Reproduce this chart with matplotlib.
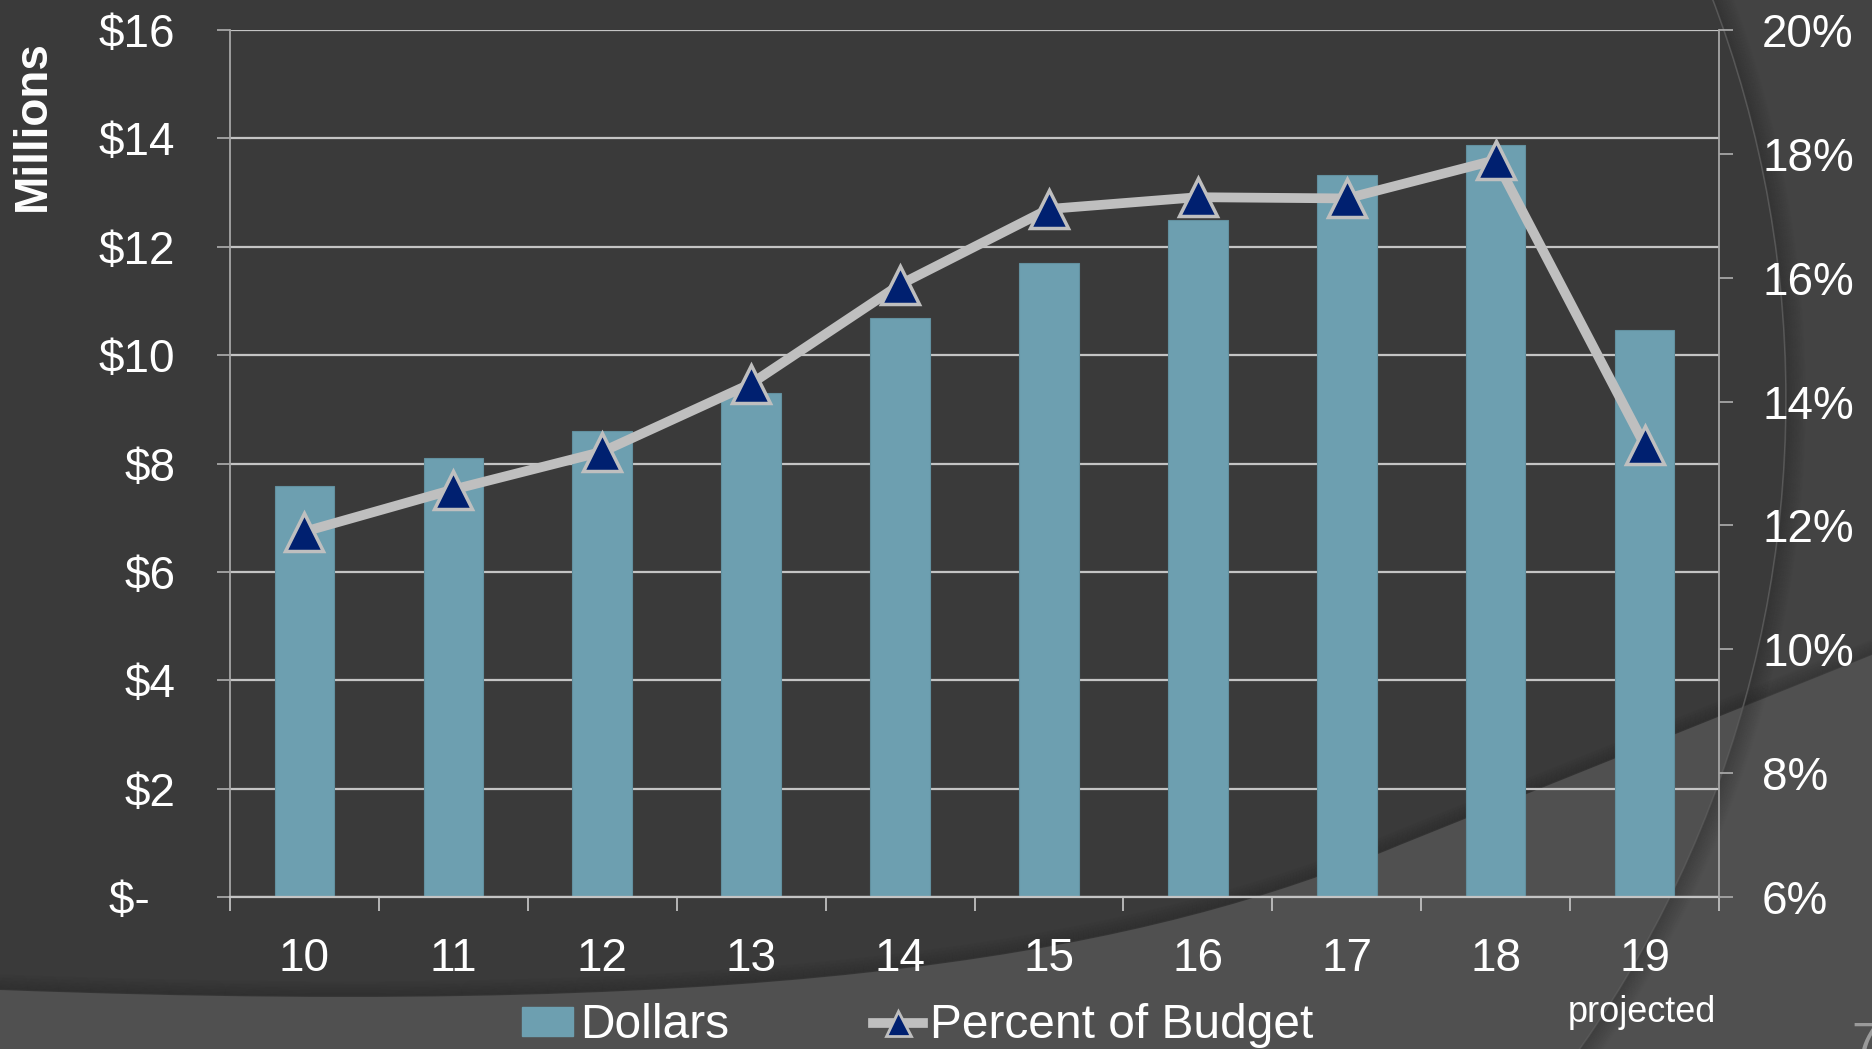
import numpy as np
import matplotlib
matplotlib.use("Agg")
import matplotlib.pyplot as plt
from matplotlib.patches import Circle, PathPatch, Rectangle, Patch
from matplotlib.path import Path
from matplotlib.lines import Line2D

plt.rcParams['font.family'] = ['Liberation Sans', 'DejaVu Sans']

# data
years = ['10', '11', '12', '13', '14', '15', '16', '17', '18', '19']
dollars = [7.58, 8.10, 8.60, 9.30, 10.68, 11.70, 12.50, 13.33, 13.87, 10.47]   # $ millions
pct_budget = [11.9, 12.58, 13.19, 14.29, 15.89, 17.11, 17.30, 17.28, 17.9, 13.3]  # percent
left_ticks = [0, 2, 4, 6, 8, 10, 12, 14, 16]
left_labels = ['$-  ', '$2', '$4', '$6', '$8', '$10', '$12', '$14', '$16']
right_ticks = [6, 8, 10, 12, 14, 16, 18, 20]

W, H = 1872, 1049
BAR = '#6d9fb0'
LINE = '#bfbfbf'
NAVY = '#002070'

fig = plt.figure(figsize=(W / 100, H / 100), dpi=100)

# slide background (pixel coordinates)
bg = fig.add_axes([0, 0, 1, 1], zorder=0)
bg.set_xlim(0, W)
bg.set_ylim(H, 0)
bg.axis('off')
bg.add_patch(Rectangle((0, 0), W, H, color='#434343'))
bg.add_patch(Circle((659, 399), 1127, color='#3a3a3a'))

curve = [(0, 990), (800, 1020), (1150, 950), (1400, 845), (1872, 655)]
ccodes = [Path.MOVETO, Path.CURVE4, Path.CURVE4, Path.CURVE4, Path.LINETO]
for k in range(1, 16):
    shifted = [(x, y - k) for x, y in curve]
    bg.add_patch(PathPatch(Path(shifted, ccodes), fill=False, ec='black',
                           lw=1.5, alpha=0.08 * (16 - k) / 15))
verts = curve + [(W, H), (0, H), (0, 990)]
codes = ccodes + [Path.LINETO, Path.LINETO, Path.CLOSEPOLY]
bg.add_patch(PathPatch(Path(verts, codes), color='#505050', lw=0))

bg.add_patch(Circle((659, 399), 1127, fill=False, ec='#5a5a5a', lw=1.2))
for k in range(1, 20):
    bg.add_patch(Circle((659, 399), 1127 + k, fill=False, ec='black',
                        lw=1.2, alpha=0.13 * (20 - k) / 19))

# chart
ax = fig.add_axes([230 / W, 1 - 897 / H, (1719 - 230) / W, (897 - 30) / H], zorder=1)
ax.patch.set_visible(False)
x = np.arange(len(years))
ax.bar(x, dollars, width=0.4, color=BAR, edgecolor='#62909f', lw=0.8, zorder=2)
ax.set_xlim(-0.5, len(years) - 0.5)
ax.set_ylim(0, 16)
ax.set_yticks(left_ticks)
ax.set_yticklabels(left_labels)
ax.set_xticks(x)
ax.set_xticklabels(years)
ax.set_xticks(np.arange(-0.5, len(years), 1), minor=True)
ax.yaxis.grid(True, color='#c4c4c4', lw=1.6)
ax.set_axisbelow(True)
ax.tick_params(axis='y', labelsize=33, labelcolor='white', color='#a6a6a6',
               length=9.5, width=1.3, pad=30)
ax.tick_params(axis='x', which='major', labelsize=33, labelcolor='white',
               length=0, pad=29)
ax.tick_params(axis='x', which='minor', color='#bfbfbf', length=10, width=1.3)
for s in ['top', 'right']:
    ax.spines[s].set_visible(False)
ax.spines['left'].set_color('#a6a6a6')
ax.spines['left'].set_linewidth(1.3)
ax.spines['bottom'].set_color('#c4c4c4')
ax.spines['bottom'].set_linewidth(1.6)

ax2 = ax.twinx()
ax2.set_zorder(2)
ax2.patch.set_visible(False)
ax2.plot(x, pct_budget, color=LINE, lw=7, marker='^', ms=27,
         mfc=NAVY, mec=LINE, mew=2.5, zorder=3)
ax2.set_ylim(6, 20)
ax2.set_yticks(right_ticks)
ax2.set_yticklabels([f'{t}%' for t in right_ticks])
ax2.tick_params(axis='y', labelsize=33, labelcolor='white', color='#a6a6a6',
                length=10, width=1.3, pad=21)
for s in ['top', 'left', 'bottom']:
    ax2.spines[s].set_visible(False)
ax2.spines['right'].set_color('#a6a6a6')
ax2.spines['right'].set_linewidth(1.3)

fig.text(33 / W, 1 - 126 / H, 'Millions', rotation=90, ha='center', va='center',
         weight='bold', size=33, color='white')
fig.text(1642 / W, 1 - 1012 / H, 'projected', ha='center', va='center',
         size=26, color='white')
fig.text(1851 / W, 1 - 1022 / H, '7', ha='left', va='top', size=36, color='#9a9a9a')

handles = [Patch(color=BAR),
           Line2D([], [], color=LINE, lw=7, marker='^', ms=18,
                  mfc=NAVY, mec=LINE, mew=2)]
fig.legend(handles, ['Dollars', 'Percent of Budget'], loc='center',
           bbox_to_anchor=(918 / W, 1 - 1026 / H), ncol=2, frameon=False,
           fontsize=34.5, labelcolor='white', handlelength=1.05, handleheight=0.55,
           handletextpad=0.15, columnspacing=3.0, borderpad=0)

fig.savefig('out.png', dpi=100)
